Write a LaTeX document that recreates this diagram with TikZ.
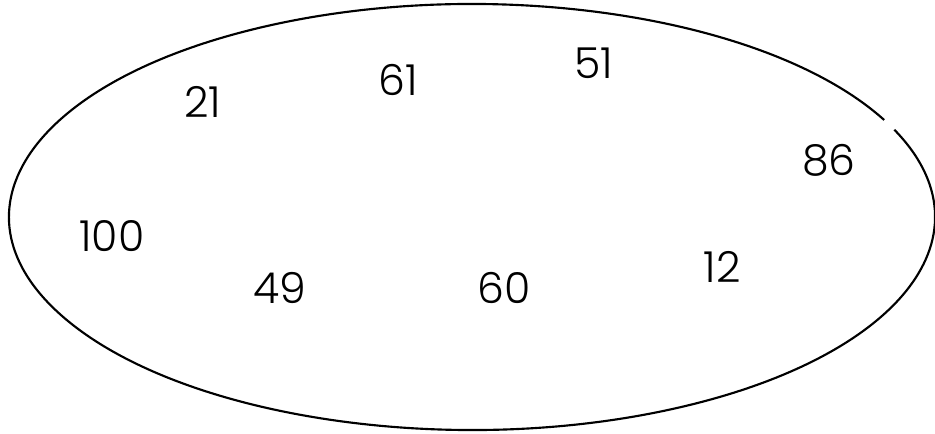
\documentclass[tikz,border=0pt]{standalone}
\usepackage{fontspec}
\setmainfont{Poppins Light}
\begin{document}
\begin{tikzpicture}[x=0.75pt,y=0.75pt,
  num/.style={font=\fontsize{32}{34}\selectfont, inner sep=0pt}]
\useasboundingbox (0,0) rectangle (935,433);
\draw[line width=1.6pt] ([shift={(27.1:463 and 213)}]472,216) arc[start angle=27.1, end angle=384.2, x radius=463, y radius=213];
\node[num] (n21) at (203,331) {21};
\node[num] (n61) at (398,353) {61};
\node[num] (n51) at (594,370) {51};
\node[num] (n86) at (829,273) {86};
\node[num] (n100) at (112,197) {100};
\node[num] (n49) at (280,145) {49};
\node[num] (n60) at (504,145) {60};
\node[num] (n12) at (722,166) {12};
\end{tikzpicture}
\end{document}
